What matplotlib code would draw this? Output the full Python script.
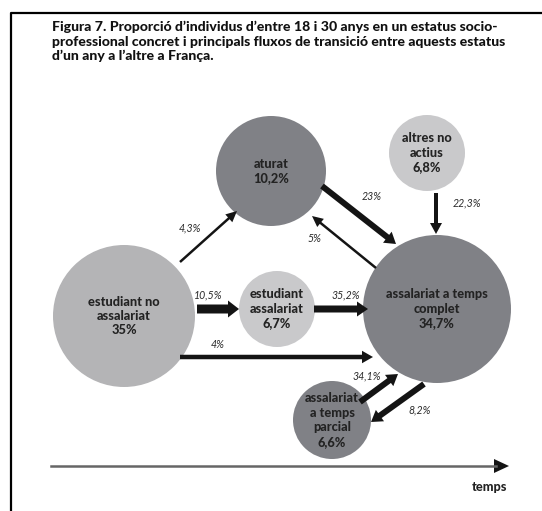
import matplotlib.pyplot as plt
from matplotlib.patches import Circle, FancyArrow, Polygon

# states: label, share
states = ['estudiant no\nassalariat', 'aturat', 'altres no\nactius',
          'estudiant\nassalariat', 'assalariat a temps\ncomplet',
          'assalariat\na temps\nparcial']
shares = ['35%', '10,2%', '6,8%', '6,7%', '34,7%', '6,6%']

# flows: from, to, value
flow_from = [0, 1, 4, 2, 0, 3, 0, 5, 4]
flow_to = [1, 4, 1, 4, 3, 4, 4, 4, 5]
flow_vals = ['4,3%', '23%', '5%', '22,3%', '10,5%', '35,2%', '4%', '34,1%', '8,2%']

title = ("Figura 7. Proporció d’individus d’entre 18 i 30 anys en un estatus socio-\n"
         "professional concret i principals fluxos de transició entre aquests estatus\n"
         "d’un any a l’altre a França.")

# layout (pixel coordinates)
centers = [(124, 316), (271, 171), (427, 153), (277, 309), (437, 309), (332, 420)]
radii = [71, 55, 38, 38, 74, 39]
colors = ['#b4b4b6', '#808186', '#c9c9cb', '#c9c9cb', '#808186', '#808186']
arrow_pts = [((180, 262), (237, 211)), ((322, 186), (396, 244)), ((376, 268), (312, 216)),
             ((436, 193), (436, 234)), ((197, 309), (239, 309)), ((314, 309), (368, 309)),
             ((180, 357), (373, 357)), ((360, 402), (398, 374)), ((424, 384), (371, 422))]
arrow_w = [2.5, 6, 2.5, 4, 9, 7, 4.5, 6, 6]
label_pos = [(190, 228), (372, 197), (315, 238), (467, 203), (208, 295), (346, 295),
             (218, 345), (367, 376), (420, 410)]

fig = plt.figure(figsize=(5.42, 5.11), dpi=100)
ax = fig.add_axes([0, 0, 1, 1])
ax.set_xlim(0, 542)
ax.set_ylim(511, 0)
ax.axis('off')

# frame
ax.plot([11, 11, 542], [511, 13, 13], color='black', lw=1.6, solid_capstyle='butt')

ax.text(52, 21, title, fontsize=10.1, fontweight='black', family='Lato',
        va='top', ha='left', linespacing=1.22, color='#111111')

for (cx, cy), r, c, s, p in zip(centers, radii, colors, states, shares):
    ax.add_patch(Circle((cx, cy), r, facecolor=c, edgecolor='none'))
    ax.text(cx, cy, s + '\n' + p, fontsize=9.2, fontweight='black', family='Lato',
            ha='center', va='center', linespacing=1.25, color='#232323')

for (p0, p1), w, v, (lx, ly) in zip(arrow_pts, arrow_w, flow_vals, label_pos):
    dx, dy = p1[0] - p0[0], p1[1] - p0[1]
    ax.add_patch(FancyArrow(p0[0], p0[1], dx, dy, width=w, head_width=w + 8,
                            head_length=11, length_includes_head=True,
                            color='#141414', lw=0))
    ax.text(lx, ly, v, fontsize=7.6, style='italic', fontweight='normal',
            family='Lato', ha='center', va='center', color='#2a2a2a')

# time axis
ax.plot([51, 496], [466, 466], color='#666666', lw=1.8)
ax.add_patch(Polygon([(494, 459), (509, 466), (494, 473)], closed=True,
                     facecolor='#141414', edgecolor='none'))
ax.text(490, 487, 'temps', fontsize=9.2, fontweight='black', family='Lato',
        ha='center', va='center', color='#232323')

fig.savefig('out.png', dpi=100)
